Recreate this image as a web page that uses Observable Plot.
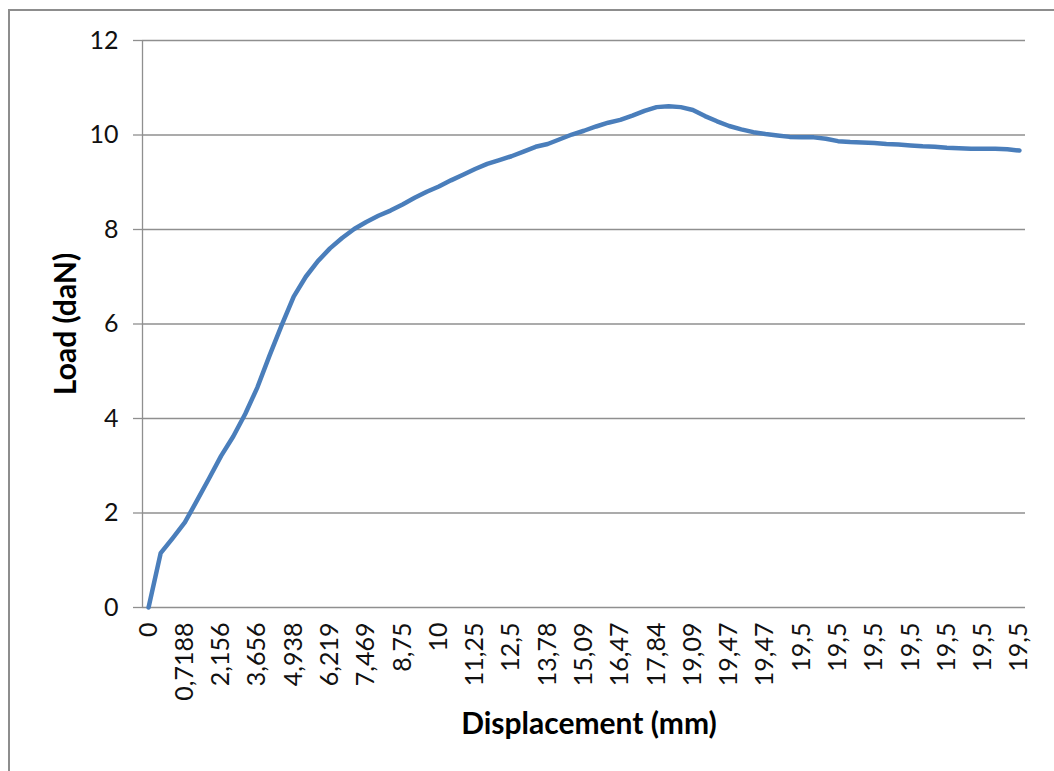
<!DOCTYPE html>
<html>
<head>
<meta charset="utf-8">
<script src="https://cdn.jsdelivr.net/npm/d3@7"></script>
<script src="https://cdn.jsdelivr.net/npm/@observablehq/plot@0.6"></script>
<style>
  html, body { margin: 0; padding: 0; background: #fff; overflow: hidden; }
  #wrap { position: relative; width: 1054px; height: 771px; overflow: hidden; }
  #frame { position: absolute; left: 8px; top: 9px; width: 1100px; height: 820px; border: 2px solid #8d8d8d; box-sizing: border-box; }
  #chart { position: absolute; left: 0; top: 0; }
</style>
</head>
<body>
<div id="wrap"><div id="frame"></div><div id="chart"></div></div>
<script>
// Category tick labels (every 3rd category shown)
const displacementLabels = ["0","0,7188","2,156","3,656","4,938","6,219","7,469","8,75","10","11,25","12,5","13,78","15,09","16,47","17,84","19,09","19,47","19,47","19,5","19,5","19,5","19,5","19,5","19,5","19,5"];
const labelStep = 3;
// Load (daN) per category
const loadValues = [
  0, 1.15, 1.47, 1.80, 2.26, 2.73, 3.21, 3.62, 4.10, 4.66,
  5.33, 5.97, 6.58, 7.00, 7.33, 7.60, 7.82, 8.01, 8.16, 8.29,
  8.40, 8.53, 8.67, 8.80, 8.91, 9.04, 9.16, 9.28, 9.39, 9.47,
  9.55, 9.65, 9.75, 9.81, 9.91, 10.01, 10.09, 10.18, 10.26, 10.32,
  10.41, 10.51, 10.59, 10.61, 10.59, 10.53, 10.40, 10.29, 10.19, 10.12,
  10.06, 10.02, 9.99, 9.96, 9.95, 9.95, 9.92, 9.87, 9.85, 9.84,
  9.83, 9.81, 9.80, 9.78, 9.76, 9.75, 9.73, 9.72, 9.71, 9.71,
  9.71, 9.70, 9.67
];
const yTicks = [0, 2, 4, 6, 8, 10, 12];

const data = loadValues.map((v, i) => ({i, v}));
const n = loadValues.length;
const xTicks = d3.range(0, n, labelStep);

const chart = Plot.plot({
  width: 1054,
  height: 771,
  marginLeft: 142,
  marginRight: 29,
  marginTop: 40,
  marginBottom: 164,
  style: {fontFamily: "Lato, sans-serif", fontSize: "25px", color: "#000", background: "transparent"},
  x: {type: "linear", domain: [-0.5, n - 0.5], axis: null},
  y: {domain: [0, 12], axis: null},
  marks: [
    Plot.gridY(yTicks, {stroke: "#8f8f8f", strokeOpacity: 1, strokeWidth: 1.3}),
    Plot.ruleX([-0.5], {stroke: "#8f8f8f", strokeWidth: 1.3}),
    Plot.axisY(yTicks, {tickSize: 9, tickPadding: 15, stroke: "#8f8f8f", fill: "#111", strokeWidth: 1.3, label: null, fontSize: 25}),
    Plot.axisX(xTicks, {tickSize: 0, tickPadding: 15, tickRotate: -90, tickFormat: i => displacementLabels[i / labelStep], label: null, fill: "#111", fontSize: 25}),
    Plot.line(data, {x: "i", y: "v", stroke: "#4a7ebb", strokeWidth: 4.5, strokeLinejoin: "round", strokeLinecap: "round"}),
    Plot.text(["Load (daN)"], {frameAnchor: "left", textAnchor: "middle", rotate: -90, dx: -76, fontWeight: "bold", fontSize: 30, fill: "#000"}),
    Plot.text(["Displacement (mm)"], {frameAnchor: "bottom", dx: 5, dy: 126, fontWeight: "bold", fontSize: 30, fill: "#000"})
  ]
});
document.getElementById("chart").appendChild(chart);
</script>
</body>
</html>
